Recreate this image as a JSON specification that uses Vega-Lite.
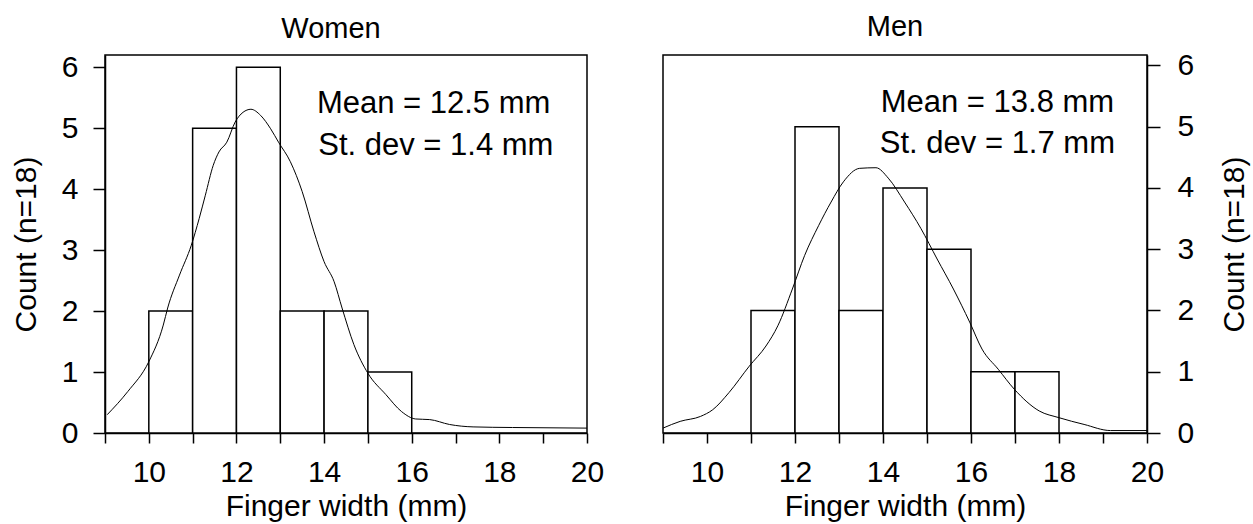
{
  "$schema": "https://vega.github.io/schema/vega-lite/v6.json",
  "background": "white",
  "padding": {"left": 10, "top": 12, "right": 0, "bottom": 0},
  "spacing": 55,
  "config": {
    "font": "Liberation Sans",
    "view": {"stroke": "black", "strokeWidth": 1.5},
    "axis": {
      "domainColor": "black", "domainWidth": 1.5,
      "tickColor": "black", "tickWidth": 1.5,
      "labelColor": "black", "titleColor": "black",
      "labelFontSize": 30, "titleFontSize": 30,
      "titleFontWeight": "normal", "grid": false
    },
    "title": {"fontSize": 29, "fontWeight": "normal", "color": "black"}
  },
  "datasets": {
    "women_bars": [
      {"x": 10, "x2": 11, "y": 2},
      {"x": 11, "x2": 12, "y": 5},
      {"x": 12, "x2": 13, "y": 6},
      {"x": 13, "x2": 14, "y": 2},
      {"x": 14, "x2": 15, "y": 2},
      {"x": 15, "x2": 16, "y": 1}
    ],
    "men_bars": [
      {"x": 11, "x2": 12, "y": 2},
      {"x": 12, "x2": 13, "y": 5},
      {"x": 13, "x2": 14, "y": 2},
      {"x": 14, "x2": 15, "y": 4},
      {"x": 15, "x2": 16, "y": 3},
      {"x": 16, "x2": 17, "y": 1},
      {"x": 17, "x2": 18, "y": 1}
    ],
    "women_curve": [
      {"x": 9.05, "y": 0.30}, {"x": 9.52, "y": 0.68}, {"x": 10.0, "y": 1.17},
      {"x": 10.33, "y": 1.77}, {"x": 10.43, "y": 2.05}, {"x": 10.70, "y": 2.59},
      {"x": 10.97, "y": 3.08}, {"x": 11.15, "y": 3.52}, {"x": 11.29, "y": 3.90},
      {"x": 11.47, "y": 4.39}, {"x": 11.60, "y": 4.61}, {"x": 11.78, "y": 4.77},
      {"x": 11.97, "y": 5.10}, {"x": 12.15, "y": 5.26}, {"x": 12.33, "y": 5.31},
      {"x": 12.55, "y": 5.21}, {"x": 12.78, "y": 4.99}, {"x": 12.96, "y": 4.77},
      {"x": 13.23, "y": 4.45}, {"x": 13.50, "y": 3.96}, {"x": 13.77, "y": 3.30},
      {"x": 14.0, "y": 2.81}, {"x": 14.23, "y": 2.48}, {"x": 14.41, "y": 2.05},
      {"x": 14.68, "y": 1.45}, {"x": 15.0, "y": 0.98}, {"x": 15.41, "y": 0.63},
      {"x": 15.77, "y": 0.35}, {"x": 16.09, "y": 0.23}, {"x": 16.41, "y": 0.22},
      {"x": 16.86, "y": 0.14}, {"x": 17.4, "y": 0.10}, {"x": 18.3, "y": 0.09},
      {"x": 20.0, "y": 0.08}
    ],
    "men_curve": [
      {"x": 9.0, "y": 0.08}, {"x": 9.39, "y": 0.19}, {"x": 9.85, "y": 0.27},
      {"x": 10.13, "y": 0.38}, {"x": 10.5, "y": 0.66}, {"x": 10.96, "y": 1.09},
      {"x": 11.34, "y": 1.42}, {"x": 11.61, "y": 1.75}, {"x": 11.94, "y": 2.35},
      {"x": 12.22, "y": 2.90}, {"x": 12.54, "y": 3.39}, {"x": 12.82, "y": 3.77},
      {"x": 13.1, "y": 4.10}, {"x": 13.47, "y": 4.32}, {"x": 13.84, "y": 4.33},
      {"x": 14.12, "y": 4.16}, {"x": 14.49, "y": 3.77}, {"x": 14.86, "y": 3.34},
      {"x": 15.23, "y": 2.84}, {"x": 15.60, "y": 2.35}, {"x": 15.97, "y": 1.81},
      {"x": 16.25, "y": 1.37}, {"x": 16.62, "y": 1.04}, {"x": 16.99, "y": 0.71},
      {"x": 17.55, "y": 0.36}, {"x": 18.0, "y": 0.25}, {"x": 18.57, "y": 0.14},
      {"x": 19.17, "y": 0.04}, {"x": 20.0, "y": 0.04}
    ],
    "women_text": [
      {"x": 16.5, "y": 5.40, "label": "Mean = 12.5 mm"},
      {"x": 16.55, "y": 4.70, "label": "St. dev = 1.4 mm"}
    ],
    "men_text": [
      {"x": 16.6, "y": 5.38, "label": "Mean = 13.8 mm"},
      {"x": 16.6, "y": 4.72, "label": "St. dev = 1.7 mm"}
    ]
  },
  "hconcat": [
    {
      "width": 482,
      "height": 378,
      "title": {"text": "Women", "offset": 8, "dx": -15},
      "layer": [
        {
          "data": {"name": "women_bars"},
          "mark": {"type": "bar", "fill": "white", "stroke": "black", "strokeWidth": 1.5},
          "encoding": {
            "x": {"field": "x", "type": "quantitative",
              "scale": {"domain": [9, 20], "nice": false, "zero": false},
              "axis": {"title": "Finger width (mm)", "values": [9, 9.5, 10, 10.5, 11, 11.5, 12, 12.5, 13, 13.5, 14, 14.5, 15, 15.5, 16, 16.5, 17, 17.5, 18, 18.5, 19, 19.5, 20],
                "labelExpr": "datum.value % 2 === 0 ? datum.label : ''",
                "tickSize": {"condition": {"test": "datum.value % 1 === 0", "value": 10}, "value": 5},
                "labelPadding": 14, "titlePadding": 4, "labelFlush": false}},
            "x2": {"field": "x2"},
            "y": {"field": "y", "type": "quantitative",
              "scale": {"domain": [0, 6.2], "nice": false},
              "axis": {"title": "Count (n=18)", "values": [0, 1, 2, 3, 4, 5, 6], "format": "d", "tickSize": 12,
                "labelPadding": 15, "titlePadding": 20}},
            "y2": {"datum": 0}
          }
        },
        {
          "data": {"name": "women_curve"},
          "mark": {"type": "line", "color": "black", "strokeWidth": 1, "interpolate": "monotone"},
          "encoding": {
            "x": {"field": "x", "type": "quantitative"},
            "y": {"field": "y", "type": "quantitative"}
          }
        },
        {
          "data": {"name": "women_text"},
          "mark": {"type": "text", "fontSize": 31, "align": "center", "baseline": "middle", "color": "black"},
          "encoding": {
            "x": {"field": "x", "type": "quantitative"},
            "y": {"field": "y", "type": "quantitative"},
            "text": {"field": "label"}
          }
        }
      ]
    },
    {
      "width": 484,
      "height": 378,
      "title": {"text": "Men", "offset": 8, "dx": -10},
      "layer": [
        {
          "data": {"name": "men_bars"},
          "mark": {"type": "bar", "fill": "white", "stroke": "black", "strokeWidth": 1.5},
          "encoding": {
            "x": {"field": "x", "type": "quantitative",
              "scale": {"domain": [9, 20], "nice": false, "zero": false},
              "axis": {"title": "Finger width (mm)", "values": [9, 9.5, 10, 10.5, 11, 11.5, 12, 12.5, 13, 13.5, 14, 14.5, 15, 15.5, 16, 16.5, 17, 17.5, 18, 18.5, 19, 19.5, 20],
                "labelExpr": "datum.value % 2 === 0 ? datum.label : ''",
                "tickSize": {"condition": {"test": "datum.value % 1 === 0", "value": 10}, "value": 5},
                "labelPadding": 14, "titlePadding": 4, "labelFlush": false}},
            "x2": {"field": "x2"},
            "y": {"field": "y", "type": "quantitative",
              "scale": {"domain": [0, 6.17], "nice": false},
              "axis": {"orient": "right", "title": "Count (n=18)", "values": [0, 1, 2, 3, 4, 5, 6], "format": "d", "tickSize": 13,
                "labelPadding": 17, "titlePadding": 26, "titleAngle": 270, "titleBaseline": "top"}},
            "y2": {"datum": 0}
          }
        },
        {
          "data": {"name": "men_curve"},
          "mark": {"type": "line", "color": "black", "strokeWidth": 1, "interpolate": "monotone"},
          "encoding": {
            "x": {"field": "x", "type": "quantitative"},
            "y": {"field": "y", "type": "quantitative"}
          }
        },
        {
          "data": {"name": "men_text"},
          "mark": {"type": "text", "fontSize": 31, "align": "center", "baseline": "middle", "color": "black"},
          "encoding": {
            "x": {"field": "x", "type": "quantitative"},
            "y": {"field": "y", "type": "quantitative"},
            "text": {"field": "label"}
          }
        }
      ]
    }
  ]
}
